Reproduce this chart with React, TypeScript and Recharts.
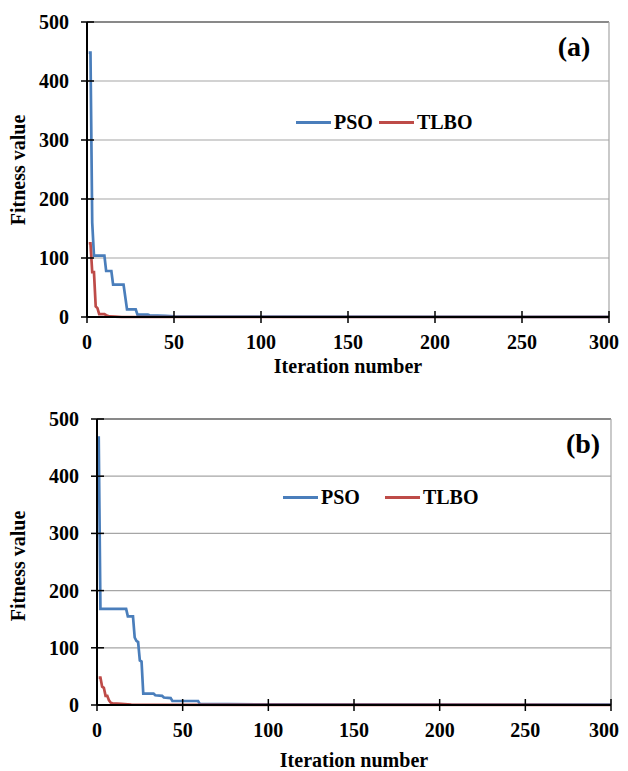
import { CartesianGrid, Line, LineChart, ReferenceLine, XAxis, YAxis } from "recharts"

// (a) PSO / TLBO, iteraciones donde cambia el valor
const psoAIter = [1, 2, 3, 4, 10, 11, 14, 15, 21, 23, 28, 29, 35, 36, 45, 50, 60, 300]
const psoAVal = [448, 448, 160, 104, 104, 78, 78, 55, 55, 13, 13, 4, 4, 3, 2, 1, 0.5, 0.3]
const tlboAIter = [1, 2, 3, 4, 5, 6, 7, 10, 11, 13, 16, 20, 300]
const tlboAVal = [125, 125, 76, 76, 18, 15, 5, 5, 3, 1, 0.5, 0, 0]

// (b)
const psoBIter = [1, 2, 17, 18, 21, 22, 23, 24, 25, 26, 27, 33, 34, 38, 39, 43, 44, 59, 60, 100, 300]
const psoBVal = [470, 168, 168, 155, 155, 118, 112, 110, 78, 76, 20, 20, 17, 16, 13, 12, 7, 7, 2, 1, 0.5]
const tlboBIter = [1, 2, 3, 4, 5, 6, 7, 8, 9, 14, 20, 300]
const tlboBVal = [48, 48, 32, 30, 16, 16, 8, 4, 3, 2, 0.5, 0]

const xTicks = [0, 50, 100, 150, 200, 250, 300]
const yTicks = [0, 100, 200, 300, 400, 500]

const zip = (xs: number[], ys: number[]) => xs.map((x, i) => ({ x, y: ys[i] }))

const FONT = "Liberation Serif, DejaVu Serif, serif"
const BLUE = "#4a7ebb"
const RED = "#be4b48"
const GRID = "#a6a6a6"
const W = 620

const txt = { fill: "#000", fontSize: 20, fontWeight: 700, fontFamily: FONT }

// ticks que cruzan el eje (como en Excel)
const YTick = (props: any) => {
    const { x, y, payload } = props
    const ax = x + 18
    return (
        <g>
            <line x1={ax - 6} x2={ax + 7} y1={y} y2={y} stroke="#000" strokeWidth={1.5} />
            <text x={x} y={y} dy="0.35em" textAnchor="end" {...txt}>
                {payload.value}
            </text>
        </g>
    )
}

const XTick = (props: any) => {
    const { x, y, payload } = props
    const ay = y - 18
    // la ultima etiqueta no debe salirse por la derecha
    const clip = x + 15 > 611
    return (
        <g>
            <line x1={x} x2={x} y1={ay - 6} y2={ay + 6} stroke="#000" strokeWidth={1.5} />
            <text x={clip ? 611 : x} y={y} dy="0.71em" textAnchor={clip ? "end" : "middle"} {...txt}>
                {payload.value}
            </text>
        </g>
    )
}

type PanelProps = {
    tag: string
    pso: { x: number; y: number }[]
    tlbo: { x: number; y: number }[]
    height: number
    margin: { top: number; right: number; left: number; bottom: number }
    yWidth: number
    xHeight: number
    legend: { top: number; left: number; gap: number }
    tagPos: { x: number; y: number }
    yTitle: { x: number; y: number }
    xTitle: { x: number; y: number }
}

const abs = (x: number, y: number, extra = "") => ({
    position: "absolute" as const,
    left: x,
    top: y,
    transform: `translate(-50%, -50%) ${extra}`,
    whiteSpace: "nowrap" as const,
    fontFamily: FONT,
    fontWeight: 700,
    fontSize: 20,
    lineHeight: "22px",
})

function Panel({ tag, pso, tlbo, height, margin, yWidth, xHeight, legend, tagPos, yTitle, xTitle }: PanelProps) {
    return (
        <div style={{ position: "relative", width: W, height }}>
            <LineChart width={W} height={height} margin={margin}>
                <CartesianGrid vertical={false} stroke={GRID} strokeWidth={1.2} />
                <XAxis
                    dataKey="x"
                    type="number"
                    domain={[0, 300]}
                    ticks={xTicks}
                    allowDuplicatedCategory={false}
                    height={xHeight}
                    stroke="#000"
                    strokeWidth={2}
                    tickSize={6}
                    tickMargin={12}
                    tickLine={false}
                    tick={<XTick />}
                />
                <YAxis
                    type="number"
                    domain={[0, 500]}
                    ticks={yTicks}
                    width={yWidth}
                    stroke="#000"
                    strokeWidth={2}
                    tickSize={6}
                    tickMargin={12}
                    tickLine={false}
                    tick={<YTick />}
                />
                <ReferenceLine y={500} stroke="#404040" strokeWidth={1.2} />
                <ReferenceLine x={300} stroke={GRID} strokeWidth={1.2} />
                <Line data={pso} dataKey="y" name="PSO" type="linear" stroke={BLUE} strokeWidth={2.7} dot={false} isAnimationActive={false} />
                <Line data={tlbo} dataKey="y" name="TLBO" type="linear" stroke={RED} strokeWidth={2.7} dot={false} isAnimationActive={false} />
            </LineChart>
            <div
                style={{
                    position: "absolute",
                    top: legend.top,
                    left: legend.left,
                    display: "flex",
                    alignItems: "center",
                    fontFamily: FONT,
                    fontWeight: 700,
                    fontSize: 20,
                    lineHeight: "22px",
                }}
            >
                <span style={{ display: "inline-block", width: 35, height: 3, background: BLUE, marginRight: 3 }} />
                <span style={{ marginRight: legend.gap }}>PSO</span>
                <span style={{ display: "inline-block", width: 35, height: 3, background: RED, marginRight: 3 }} />
                <span>TLBO</span>
            </div>
            <div style={{ ...abs(tagPos.x, tagPos.y), fontSize: 28, lineHeight: "30px" }}>{tag}</div>
            <div style={abs(yTitle.x, yTitle.y, "rotate(-90deg)")}>Fitness value</div>
            <div style={abs(xTitle.x, xTitle.y)}>Iteration number</div>
        </div>
    )
}

export default function App() {
    return (
        <div style={{ width: W }}>
            <style>{"html, body { overflow: hidden; }"}</style>
            <Panel
                tag="(a)"
                pso={zip(psoAIter, psoAVal)}
                tlbo={zip(tlboAIter, tlboAVal)}
                height={372}
                margin={{ top: 14, right: 19, left: 0, bottom: 0 }}
                yWidth={79}
                xHeight={63}
                legend={{ top: 103, left: 288, gap: 6 }}
                tagPos={{ x: 566, y: 39 }}
                yTitle={{ x: 10, y: 162 }}
                xTitle={{ x: 340, y: 358 }}
            />
            <Panel
                tag="(b)"
                pso={zip(psoBIter, psoBVal)}
                tlbo={zip(tlboBIter, tlboBVal)}
                height={391}
                margin={{ top: 39, right: 17, left: 0, bottom: 0 }}
                yWidth={89}
                xHeight={66}
                legend={{ top: 106, left: 275, gap: 25 }}
                tagPos={{ x: 575, y: 64 }}
                yTitle={{ x: 10, y: 186 }}
                xTitle={{ x: 346, y: 380 }}
            />
        </div>
    )
}
